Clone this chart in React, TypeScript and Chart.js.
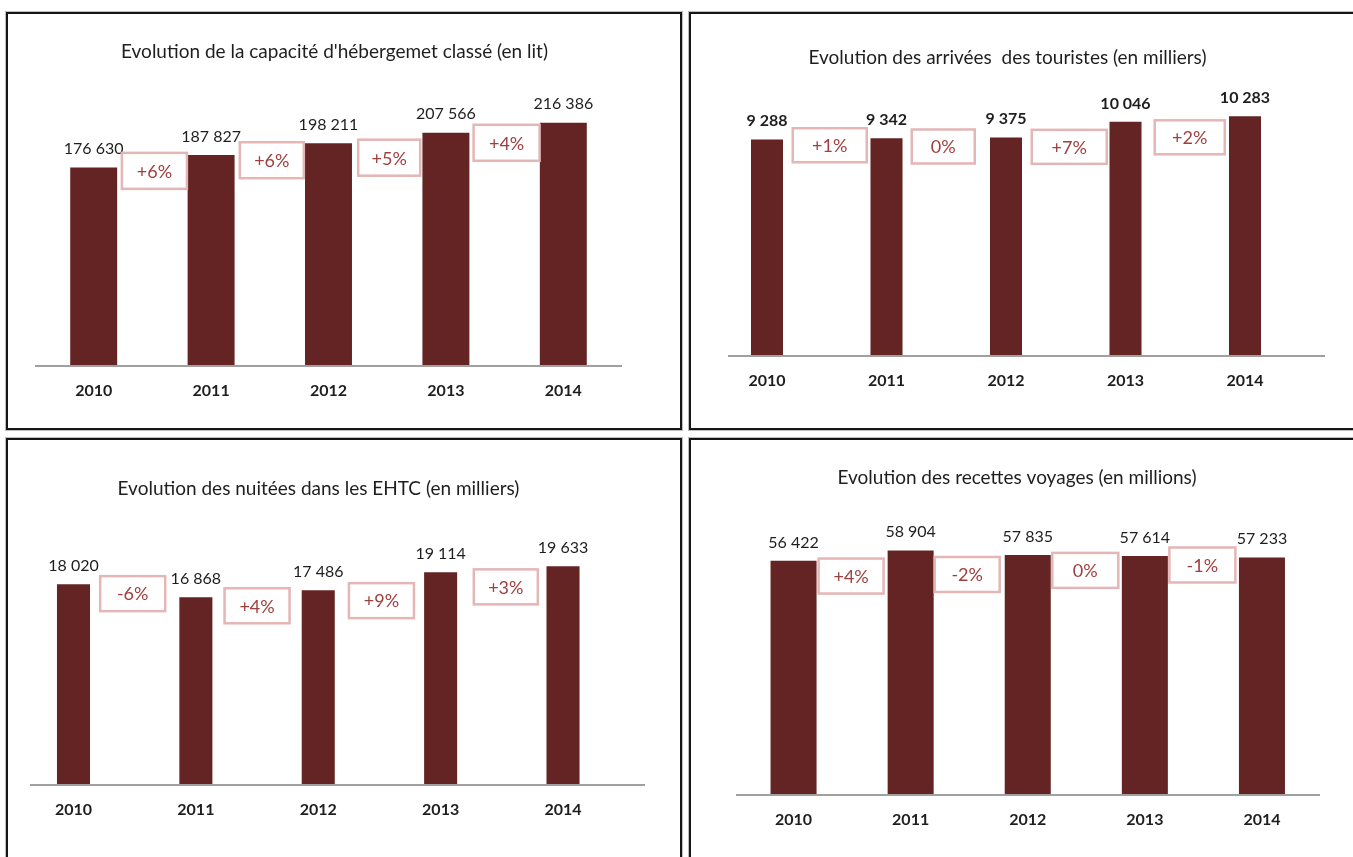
import { useEffect, useRef } from 'react';
import { Chart, registerables } from 'chart.js';

Chart.register(...registerables);

// ---------- data ----------
const years = ['2010', '2011', '2012', '2013', '2014'];

const capaciteLits = [176630, 187827, 198211, 207566, 216386];
const capaciteVariation = ['+6%', '+6%', '+5%', '+4%'];

const arriveesTouristes = [9288, 9342, 9375, 10046, 10283];
const arriveesVariation = ['+1%', '0%', '+7%', '+2%'];

const nuiteesEHTC = [18020, 16868, 17486, 19114, 19633];
const nuiteesVariation = ['-6%', '+4%', '+9%', '+3%'];

const recettesVoyages = [56422, 58904, 57835, 57614, 57233];
const recettesVariation = ['+4%', '-2%', '0%', '-1%'];

// ---------- style ----------
const FONT = 'Lato, "Open Sans", sans-serif';
const BAR_COLOR = '#632423';
const TEXT_COLOR = '#1e1e1e';
const AXIS_COLOR = '#a0a0a0';
const BOX_BORDER = '#e4b6b5';
const BOX_TEXT = '#9e403e';

function fmt(v: number): string {
  return String(v).replace(/\B(?=(\d{3})+(?!\d))/g, ' ');
}

type Spec = {
  left: number; top: number; w: number; h: number; cw: number; ch: number;
  plotLeft: number; plotRight: number; plotTop: number; plotBottom: number;
  yMax: number; barPct: number;
  title: string; titleX: number; titleY: number;
  values: number[]; changes: string[]; labelBold: boolean;
  boxW: number[]; boxH: number; boxDy: number[]; boxDx: number[];
  lineExt: [number, number];
};

const panels: Spec[] = [
  {
    left: 6, top: 12, w: 676, h: 418, cw: 676, ch: 418,
    plotLeft: 29, plotRight: 616, plotTop: 73, plotBottom: 354,
    yMax: 250000, barPct: 0.4,
    title: "Evolution de la capacité d'hébergemet classé (en lit)", titleX: 328.5, titleY: 40,
    values: capaciteLits, changes: capaciteVariation, labelBold: false,
    boxW: [65, 64, 62, 66], boxH: 36, boxDy: [-2, -1, 7, 2], boxDx: [2, 2, 2, 2],
    lineExt: [0, 0],
  },
  {
    left: 689, top: 12, w: 700, h: 418, cw: 664, ch: 418,
    plotLeft: 18.25, plotRight: 615.75, plotTop: 64.3, plotBottom: 344,
    yMax: 12000, barPct: 0.268,
    title: 'Evolution des arrivées  des touristes (en milliers)', titleX: 318.5, titleY: 46,
    values: arriveesTouristes, changes: arriveesVariation, labelBold: true,
    boxW: [74, 63, 75, 70], boxH: 34, boxDy: [-10, -8, 8, 4], boxDx: [3, -3, 3.5, 4.5],
    lineExt: [20.75, 20.25],
  },
  {
    left: 6, top: 438, w: 676, h: 450, cw: 676, ch: 419,
    plotLeft: 6.3, plotRight: 618.2, plotTop: 68.6, plotBottom: 347,
    yMax: 25000, barPct: 0.27,
    title: 'Evolution des nuitées dans les EHTC (en milliers)', titleX: 312.5, titleY: 51,
    values: nuiteesEHTC, changes: nuiteesVariation, labelBold: false,
    boxW: [65, 65, 65, 64], boxH: 35, boxDy: [-21, -2, 11, 3], boxDx: [-2, 0, 2, 4],
    lineExt: [17.7, 20.8],
  },
  {
    left: 689, top: 438, w: 700, h: 450, cw: 664, ch: 419,
    plotLeft: 46, plotRight: 631.5, plotTop: 66.5, plotBottom: 357,
    yMax: 70000, barPct: 0.393,
    title: 'Evolution des recettes voyages (en millions)', titleX: 328, titleY: 40,
    values: recettesVoyages, changes: recettesVariation, labelBold: false,
    boxW: [65, 65, 66, 66], boxH: 35, boxDy: [8, 2, -3, -10], boxDx: [-1, -2, -1, -1],
    lineExt: [1, -0.5],
  },
];

const TICK_SIZE = 16;
const TICK_LINE = TICK_SIZE * 1.2;
const TICK_OFFSET = 25; // distance from axis to year label centre

function Panel({ spec }: { spec: Spec }) {
  const ref = useRef<HTMLCanvasElement>(null);

  useEffect(() => {
    const canvas = ref.current;
    if (!canvas) return;
    const tickPadding = TICK_OFFSET - TICK_LINE / 2;
    const axisHeight = TICK_LINE + 2 * tickPadding;

    const decor = {
      id: 'decor',
      afterDatasetsDraw(chart: any) {
        const { ctx, chartArea, scales } = chart;
        const xs = scales.x;
        const ys = scales.y;
        ctx.save();
        // baseline
        const y0 = ys.getPixelForValue(0);
        ctx.strokeStyle = AXIS_COLOR;
        ctx.lineWidth = 2;
        ctx.beginPath();
        ctx.moveTo(chartArea.left + spec.lineExt[0], y0);
        ctx.lineTo(chartArea.right + spec.lineExt[1], y0);
        ctx.stroke();

        // value labels
        ctx.fillStyle = TEXT_COLOR;
        ctx.textAlign = 'center';
        ctx.textBaseline = 'middle';
        ctx.font = `${spec.labelBold ? 'bold ' : ''}16px ${FONT}`;
        spec.values.forEach((v, i) => {
          ctx.fillText(fmt(v), xs.getPixelForValue(i), ys.getPixelForValue(v) - 18.5);
        });

        // variation boxes
        ctx.font = `18px ${FONT}`;
        spec.changes.forEach((txt, i) => {
          const cx = (xs.getPixelForValue(i) + xs.getPixelForValue(i + 1)) / 2 + spec.boxDx[i];
          const top = ys.getPixelForValue(spec.values[i + 1]) + spec.boxDy[i];
          const bw = spec.boxW[i];
          ctx.fillStyle = '#ffffff';
          ctx.fillRect(cx - bw / 2, top, bw, spec.boxH);
          ctx.strokeStyle = BOX_BORDER;
          ctx.lineWidth = 2.5;
          ctx.strokeRect(cx - bw / 2, top, bw, spec.boxH);
          ctx.fillStyle = BOX_TEXT;
          ctx.fillText(txt, cx, top + spec.boxH / 2 + 1);
        });

        // title
        ctx.fillStyle = TEXT_COLOR;
        ctx.font = `19px ${FONT}`;
        ctx.fillText(spec.title, spec.titleX, spec.titleY);
        ctx.restore();
      },
    };

    const chart = new Chart(canvas, {
      type: 'bar',
      data: {
        labels: years,
        datasets: [
          {
            data: spec.values,
            backgroundColor: BAR_COLOR,
            borderWidth: 0,
            barPercentage: spec.barPct,
            categoryPercentage: 1,
          },
        ],
      },
      options: {
        responsive: false,
        animation: false,
        events: [],
        layout: {
          padding: {
            left: spec.plotLeft,
            right: spec.cw - spec.plotRight,
            top: spec.plotTop,
            bottom: spec.ch - spec.plotBottom - axisHeight,
          },
        },
        plugins: {
          legend: { display: false },
          tooltip: { enabled: false },
          title: { display: false },
        },
        scales: {
          x: {
            grid: { display: false, drawTicks: false },
            border: { display: false },
            ticks: {
              color: TEXT_COLOR,
              padding: tickPadding,
              font: { family: FONT, size: TICK_SIZE, weight: 'bold' },
            },
          },
          y: { display: false, min: 0, max: spec.yMax },
        },
      },
      plugins: [decor],
    } as any);
    return () => chart.destroy();
  }, [spec]);

  return (
    <>
      <div
        style={{
          position: 'absolute',
          left: spec.left,
          top: spec.top,
          width: spec.w,
          height: spec.h,
          boxSizing: 'border-box',
          border: '2px solid #161616',
          outline: '1px solid #bdbdbd',
          background: '#ffffff',
        }}
      />
      <canvas
        ref={ref}
        width={spec.cw}
        height={spec.ch}
        style={{ position: 'absolute', left: spec.left, top: spec.top, width: spec.cw, height: spec.ch }}
      />
    </>
  );
}

export default function App() {
  return (
    <div
      style={{
        position: 'absolute',
        left: 0,
        top: 0,
        width: 1353,
        height: 857,
        overflow: 'hidden',
        background: '#ffffff',
      }}
    >
      {panels.map((p, i) => (
        <Panel key={i} spec={p} />
      ))}
    </div>
  );
}
